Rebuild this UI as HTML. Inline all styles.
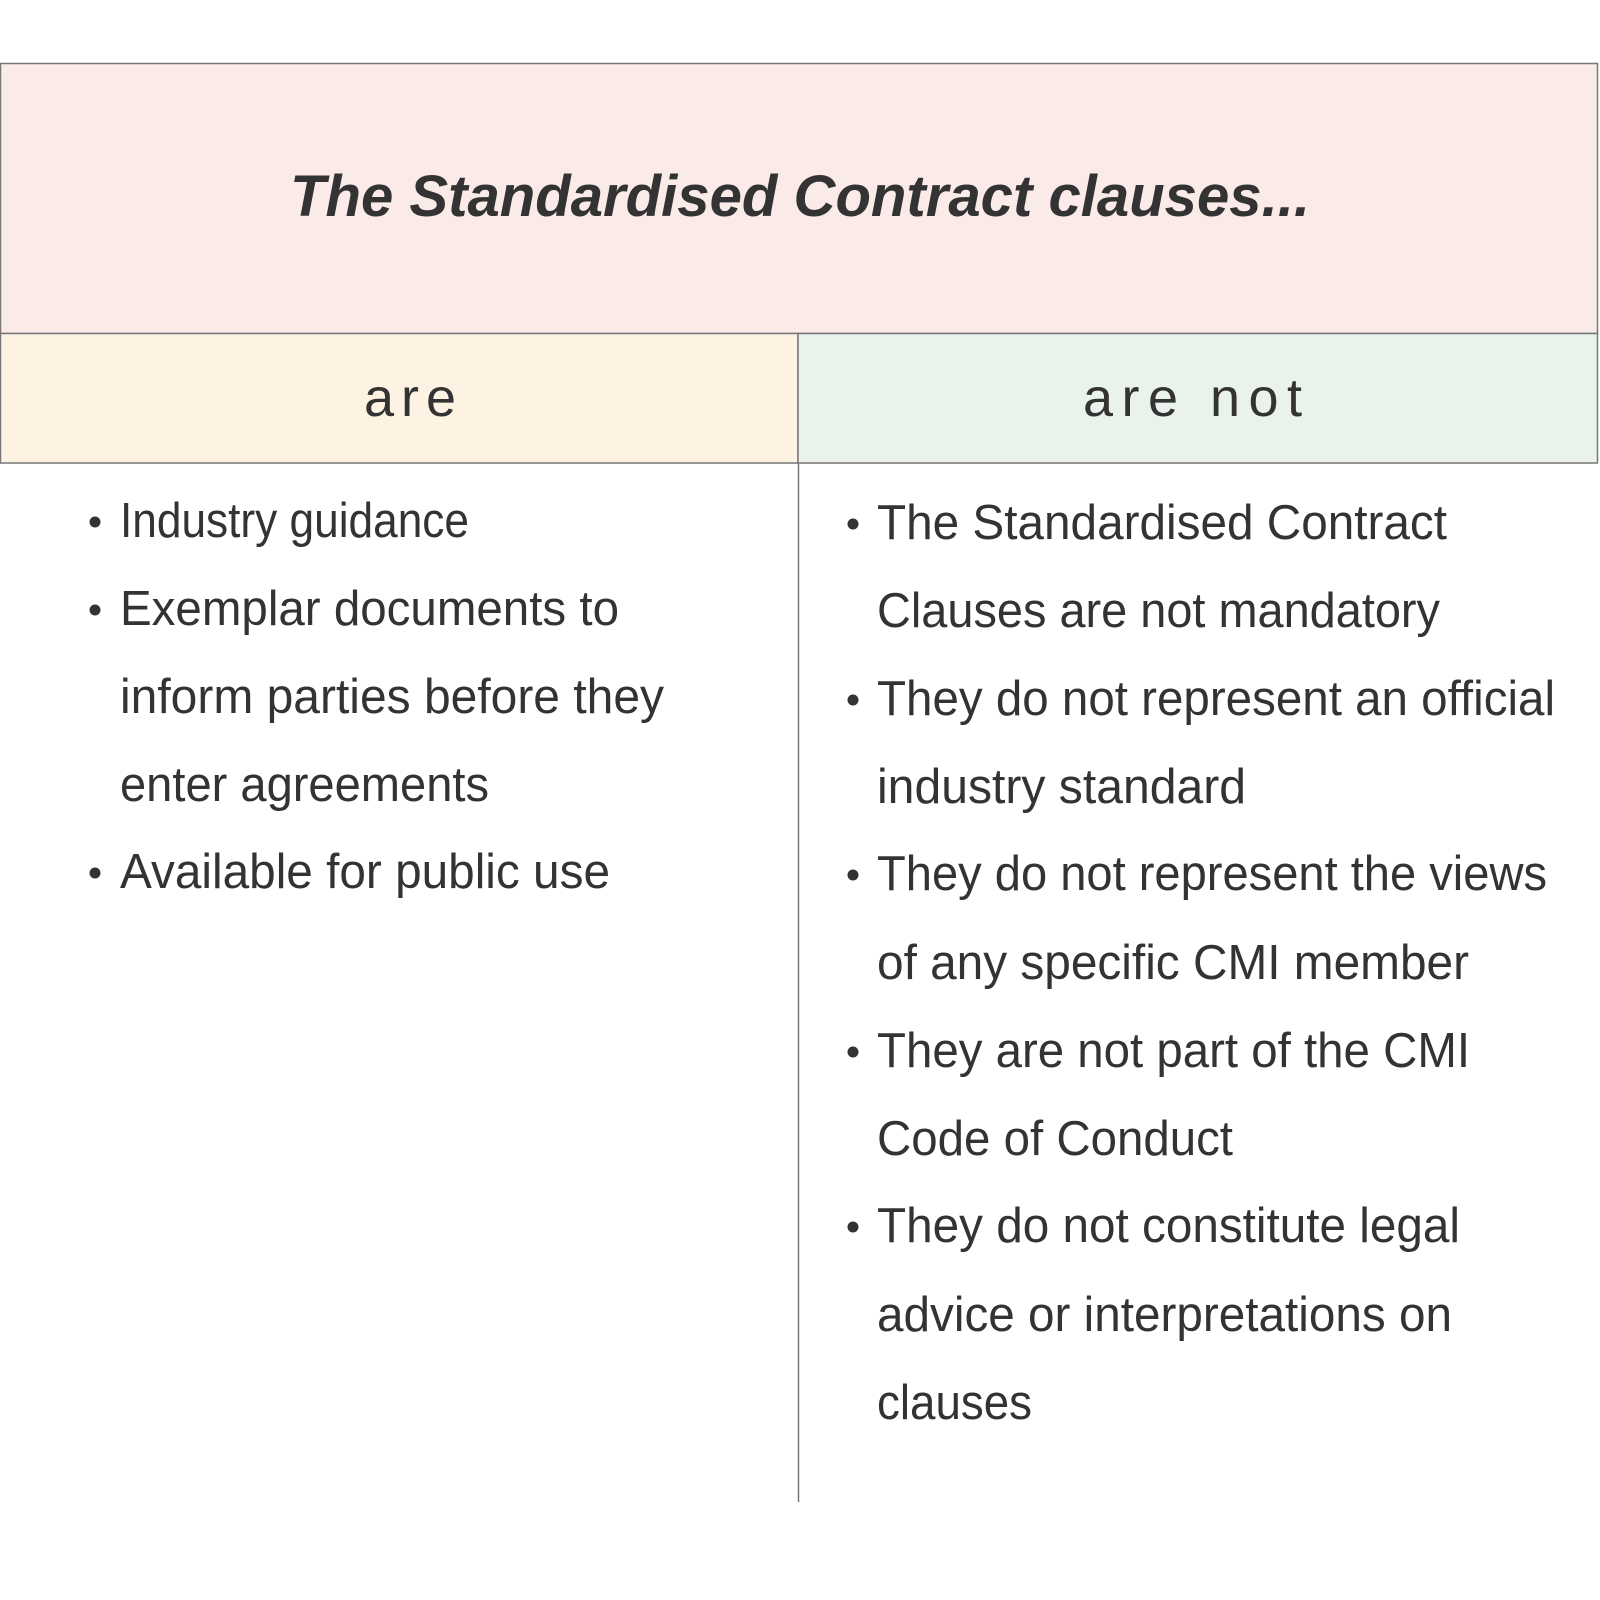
<!DOCTYPE html>
<html><head><meta charset="utf-8"><style>
html,body{margin:0;padding:0;background:#fff;width:1600px;height:1600px;overflow:hidden}
svg{display:block}
text{font-family:"Liberation Sans",sans-serif;fill:#333}
</style></head><body>
<svg width="1600" height="1600" viewBox="0 0 1600 1600" xmlns="http://www.w3.org/2000/svg">
<rect x="0.5" y="63.5" width="1597" height="270" fill="#faebe8" stroke="#777" stroke-width="1.5"/>
<rect x="0.5" y="333.5" width="797.5" height="129.5" fill="#fef3e3" stroke="#777" stroke-width="1.5"/>
<rect x="798" y="333.5" width="799.5" height="129.5" fill="#e9f2eb" stroke="#777" stroke-width="1.5"/>
<line x1="798.5" y1="463" x2="798.5" y2="1502" stroke="#777" stroke-width="1.5"/>
<text x="290" y="216" font-size="58" font-weight="bold" font-style="italic" textLength="1020" lengthAdjust="spacingAndGlyphs">The Standardised Contract clauses...</text>
<text x="364" y="416" font-size="54" textLength="92" lengthAdjust="spacing">are</text>
<text x="1083" y="416" font-size="54" textLength="219" lengthAdjust="spacing">are not</text>
<g font-size="49">
<text x="120" y="537" textLength="349" lengthAdjust="spacingAndGlyphs">Industry guidance</text>
<text x="120" y="625" textLength="499" lengthAdjust="spacingAndGlyphs">Exemplar documents to</text>
<text x="120" y="713" textLength="544" lengthAdjust="spacingAndGlyphs">inform parties before they</text>
<text x="120" y="801" textLength="369" lengthAdjust="spacingAndGlyphs">enter agreements</text>
<text x="120" y="888" textLength="490" lengthAdjust="spacingAndGlyphs">Available for public use</text>
<text x="877" y="539" textLength="570" lengthAdjust="spacingAndGlyphs">The Standardised Contract</text>
<text x="877" y="627" textLength="563" lengthAdjust="spacingAndGlyphs">Clauses are not mandatory</text>
<text x="877" y="715" textLength="678" lengthAdjust="spacingAndGlyphs">They do not represent an official</text>
<text x="877" y="803" textLength="369" lengthAdjust="spacingAndGlyphs">industry standard</text>
<text x="877" y="890" textLength="670" lengthAdjust="spacingAndGlyphs">They do not represent the views</text>
<text x="877" y="979" textLength="592" lengthAdjust="spacingAndGlyphs">of any specific CMI member</text>
<text x="877" y="1067" textLength="593" lengthAdjust="spacingAndGlyphs">They are not part of the CMI</text>
<text x="877" y="1155" textLength="356" lengthAdjust="spacingAndGlyphs">Code of Conduct</text>
<text x="877" y="1242" textLength="583" lengthAdjust="spacingAndGlyphs">They do not constitute legal</text>
<text x="877" y="1331" textLength="575" lengthAdjust="spacingAndGlyphs">advice or interpretations on</text>
<text x="877" y="1419" textLength="155" lengthAdjust="spacingAndGlyphs">clauses</text>
</g>
<g fill="#333">
<circle cx="95" cy="522" r="5.5"/>
<circle cx="95" cy="610" r="5.5"/>
<circle cx="95" cy="873" r="5.5"/>
<circle cx="853" cy="524" r="5.5"/>
<circle cx="853" cy="700" r="5.5"/>
<circle cx="853" cy="875" r="5.5"/>
<circle cx="853" cy="1052" r="5.5"/>
<circle cx="853" cy="1227" r="5.5"/>
</g>
</svg>
</body></html>
